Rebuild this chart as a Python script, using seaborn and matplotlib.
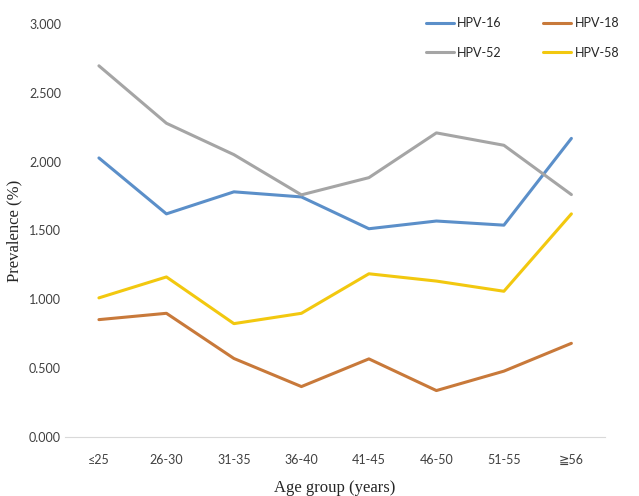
import seaborn as sns
import pandas as pd
import matplotlib.pyplot as plt

# prevalence by age group
age_groups = ['≤25', '26-30', '31-35', '36-40', '41-45', '46-50', '51-55', '≧56']
hpv16 = [2.026, 1.620, 1.780, 1.743, 1.512, 1.568, 1.538, 2.168]
hpv18 = [0.852, 0.898, 0.570, 0.366, 0.567, 0.337, 0.478, 0.680]
hpv52 = [2.695, 2.278, 2.050, 1.758, 1.883, 2.208, 2.118, 1.760]
hpv58 = [1.010, 1.162, 0.823, 0.898, 1.185, 1.132, 1.058, 1.620]

series = {'HPV-16': hpv16, 'HPV-18': hpv18, 'HPV-52': hpv52, 'HPV-58': hpv58}
colors = {'HPV-16': '#5b8fc9', 'HPV-18': '#c8793a', 'HPV-52': '#a5a5a5', 'HPV-58': '#f2c80f'}

df = pd.DataFrame({'age': age_groups, **series})
df['x'] = range(len(age_groups))
df_long = df.melt(id_vars=['age', 'x'], var_name='type', value_name='prevalence')

sns.set_style('white')
fig = plt.figure(figsize=(6.39, 4.96), dpi=100)
ax = fig.add_axes([0.102, 0.119, 0.845, 0.833])

sns.lineplot(data=df_long, x='x', y='prevalence', hue='type', palette=colors,
             linewidth=2.2, ax=ax, legend=False)

ax.set_xlim(-0.5, 7.5)
ax.set_ylim(0, 3)
ax.set_xticks(range(len(age_groups)))
ax.set_xticklabels(age_groups)
ax.set_yticks([0, 0.5, 1, 1.5, 2, 2.5, 3])
ax.set_yticklabels(['%.3f' % v for v in [0, 0.5, 1, 1.5, 2, 2.5, 3]])
ax.tick_params(length=0, labelsize=9, colors='#404040')
ax.tick_params(axis='x', pad=12)
ax.tick_params(axis='y', pad=3)
for lab in ax.get_xticklabels() + ax.get_yticklabels():
    lab.set_family(['Lato', 'DejaVu Sans'])

for side in ['top', 'right', 'left']:
    ax.spines[side].set_visible(False)
ax.spines['bottom'].set_color('#d9d9d9')
ax.spines['bottom'].set_linewidth(0.8)

ax.set_xlabel('Age group (years)', family='Liberation Serif', fontsize=12)
ax.set_ylabel('Prevalence (%)', family='Liberation Serif', fontsize=12)
ax.xaxis.set_label_coords(0.5, -0.104)
ax.yaxis.set_label_coords(-0.08, 0.5)

# legend rows: 16 / 18 on top, 52 / 58 below (legend fills column first)
order = ['HPV-16', 'HPV-52', 'HPV-18', 'HPV-58']
handles = [plt.Line2D([], [], color=colors[k], lw=2.2) for k in order]
fig.legend(handles, order, loc='upper left', bbox_to_anchor=(0.657, 0.978),
           ncol=2, frameon=False, borderpad=0, handlelength=2.2, handletextpad=0.3,
           columnspacing=3.3, labelspacing=1.4, prop={'family': 'Lato', 'size': 9})

fig.savefig('out.png', dpi=100)
